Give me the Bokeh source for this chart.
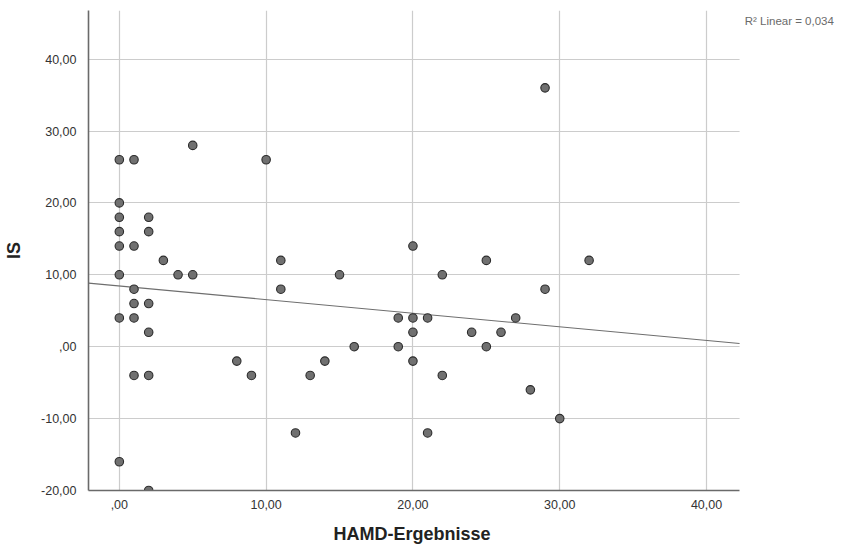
import numpy as np
from bokeh.plotting import figure
from bokeh.models import (Range1d, SingleIntervalTicker, CustomJSTickFormatter, Label,
                          ColumnDataSource, BoxAnnotation, Title)
from bokeh.embed import file_html
from bokeh.resources import INLINE

# HAMD score vs. IS score per participant
hamd = [0, 1, 5, 10, 29, 0, 0, 2, 0, 2, 0, 1, 3, 0, 4, 5, 11, 11, 15, 1,
        1, 2, 0, 1, 2, 16, 8, 1, 2, 9, 13, 14, 12, 0, 2,
        20, 25, 32, 22, 29, 19, 20, 21, 27, 20, 24, 26, 19, 25, 20, 22, 28, 30, 21]
is_score = [26, 26, 28, 26, 36, 20, 18, 18, 16, 16, 14, 14, 12, 10, 10, 10, 12, 8, 10, 8,
            6, 6, 4, 4, 2, 0, -2, -4, -4, -4, -4, -2, -12, -16, -20,
            14, 12, 12, 10, 8, 4, 4, 4, 4, 2, 2, 2, 0, 0, -2, -4, -6, -10, -12]
r2_text = "R\u00b2 Linear = 0,034"
x_title = "HAMD-Ergebnisse"
y_title = "IS"

x0, x_end = -2.1, 42.25      # extent of the plotted data area
y0, y1 = -20, 46.76
x_canvas_end = 49.33          # frame runs to the right edge to make room for the fit note

p = figure(width=843, height=553, output_backend="svg", toolbar_location=None,
           x_range=Range1d(x0, x_canvas_end), y_range=Range1d(y0, y1),
           min_border_left=88, min_border_right=0, min_border_top=10, min_border_bottom=61)
p.outline_line_color = None
p.background_fill_color = "white"
p.border_fill_color = "white"

fmt = CustomJSTickFormatter(code="""
    let s = tick.toFixed(2).replace('.', ',');
    if (s.startsWith('0,')) { s = s.slice(1); }
    return s;
""")

for ax in (p.xaxis[0], p.yaxis[0]):
    ax.ticker = SingleIntervalTicker(interval=10)
    ax.formatter = fmt
    ax.axis_label_text_font = "Liberation Sans"
    ax.axis_label_text_font_style = "bold"
    ax.axis_label_text_font_size = "18px"
    ax.axis_label_text_color = "#222222"
    ax.major_label_text_font = "Liberation Sans"
    ax.major_label_text_font_size = "12.5px"
    ax.major_label_text_color = "#333333"
    ax.major_tick_line_color = None
    ax.minor_tick_line_color = None
    ax.axis_line_color = "#6a6a6a"
    ax.axis_line_width = 1.6

p.yaxis.axis_label = y_title
p.xaxis.bounds = (x0, x_end)
p.xaxis.major_label_standoff = 3
p.yaxis.major_label_standoff = 6
p.yaxis.axis_label_standoff = 14

# x-axis title, centred under the data area rather than the whole frame
p.add_layout(Title(text=x_title, align="left", offset=245, standoff=20,
                   text_font="Liberation Sans", text_font_style="bold",
                   text_font_size="18px", text_color="#222222"), "below")

for g in (p.xgrid[0], p.ygrid[0]):
    g.ticker = SingleIntervalTicker(interval=10)
    g.grid_line_color = "#cccccc"
    g.grid_line_width = 1.2

# blank out the strip right of the data area
p.add_layout(BoxAnnotation(left=x_end, fill_color="white", fill_alpha=1.0,
                           line_color=None, level="underlay"))

# linear fit across the data area
slope, intercept = np.polyfit(hamd, is_score, 1)
p.line([x0, x_end], [intercept + slope * x0, intercept + slope * x_end],
       line_color="#6e6e6e", line_width=1.1)

src = ColumnDataSource(dict(x=hamd, y=is_score))
p.scatter("x", "y", source=src, size=8.5, fill_color="#707070",
          line_color="#2b2b2b", line_width=1.1)

p.add_layout(Label(x=42.6, y=45.3, text=r2_text,
                   text_font="Liberation Sans", text_font_size="11.5px",
                   text_color="#6a6a6a", text_baseline="middle"))

open("out.html", "w").write(file_html(p, INLINE))
